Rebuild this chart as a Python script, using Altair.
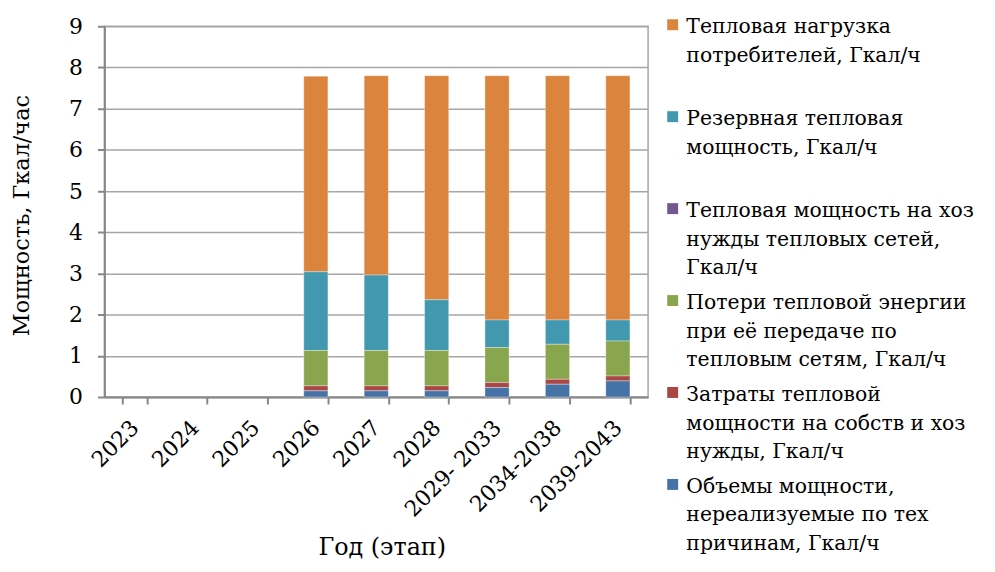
import altair as alt
import pandas as pd

categories = ["2023", "2024", "2025", "2026", "2027", "2028", "2029- 2033", "2034-2038", "2039-2043"]

series = [
    "Тепловая нагрузка|потребителей, Гкал/ч| ",
    "Резервная тепловая|мощность, Гкал/ч| ",
    "Тепловая мощность на хоз|нужды тепловых сетей,|Гкал/ч",
    "Потери тепловой энергии|при её передаче по|тепловым сетям, Гкал/ч",
    "Затраты тепловой|мощности на собств и хоз|нужды, Гкал/ч",
    "Объемы мощности,|нереализуемые по тех|причинам, Гкал/ч",
]
colors = ["#DB843D", "#4198AF", "#71588F", "#89A54E", "#AA4643", "#4572A7"]

load = [0, 0, 0, 4.75, 4.84, 5.44, 5.93, 5.93, 5.93]
reserve = [0, 0, 0, 1.91, 1.83, 1.23, 0.67, 0.59, 0.51]
network_own = [0, 0, 0, 0, 0, 0, 0, 0, 0]
losses = [0, 0, 0, 0.86, 0.86, 0.86, 0.85, 0.85, 0.85]
own_needs = [0, 0, 0, 0.12, 0.12, 0.12, 0.12, 0.12, 0.12]
unrealized = [0, 0, 0, 0.15, 0.15, 0.15, 0.23, 0.31, 0.39]

values = [load, reserve, network_own, losses, own_needs, unrealized]

rows = []
for si, (name, vals) in enumerate(zip(series, values)):
    for cat, v in zip(categories, vals):
        rows.append({"cat": cat, "series": name, "value": v, "ord": len(series) - si})
df = pd.DataFrame(rows)

font = "DejaVu Serif"

chart = (
    alt.Chart(df)
    .transform_filter("datum.value > 0")
    .mark_bar(stroke="white", strokeOpacity=0.35, strokeWidth=1)
    .encode(
        x=alt.X(
            "cat:N",
            sort=categories,
            scale=alt.Scale(domain=categories, paddingInner=0.6, paddingOuter=0.3),
            axis=alt.Axis(
                title="Год (этап)",
                labelAngle=-45,
                labelAlign="right",
                labelBaseline="middle",
                labelPadding=20,
                tickBand="extent",
                tickSize=7,
                titleX=279,
                titleY=158,
                titleBaseline="alphabetic",
                titleAnchor="middle",
            ),
        ),
        y=alt.Y(
            "value:Q",
            stack="zero",
            scale=alt.Scale(domain=[0, 9], nice=False),
            axis=alt.Axis(
                title="Мощность, Гкал/час",
                values=list(range(10)),
                tickSize=7,
                labelPadding=15,
                titleX=-76,
                titleY=190,
                titleAngle=270,
                titleBaseline="alphabetic",
                titleAlign="center",
                titleFontSize=22.5,
                grid=True,
            ),
        ),
        color=alt.Color(
            "series:N",
            scale=alt.Scale(domain=series, range=colors),
            legend=alt.Legend(
                title=None,
                orient="none",
                legendX=561.5,
                legendY=-3,
                labelExpr="split(datum.label, '|')",
                labelFont=font,
                labelFontSize=20.5,
                labelColor="black",
                labelLimit=500,
                labelOffset=3.5,
                labelBaseline="alphabetic",
                symbolType="M-1,-2.6L1,-2.6L1,-0.6L-1,-0.6Z",
                symbolSize=121,
                symbolStrokeWidth=0,
                rowPadding=14.5,
                padding=0,
            ),
        ),
        order=alt.Order("ord:Q", sort="ascending"),
    )
    .properties(
        width=547,
        height=373,
        autosize=alt.AutoSizeParams(type="none"),
        padding={"left": 97, "top": 16.7, "right": 341, "bottom": 166},
    )
    .configure(font=font, style={"guide-label": {"lineHeight": 28.5}})
    .configure_view(stroke="#a6a6a6", strokeWidth=1.5)
    .configure_axis(
        labelFont=font,
        labelFontSize=22,
        labelColor="black",
        titleFont=font,
        titleFontSize=24,
        titleFontWeight="normal",
        titleColor="black",
        domainColor="#878787",
        domainWidth=2,
        tickColor="#878787",
        tickWidth=2,
        gridColor="#a6a6a6",
        gridWidth=1.5,
    )
)

chart.save("out.html", embed_options={"renderer": "svg", "actions": False})
